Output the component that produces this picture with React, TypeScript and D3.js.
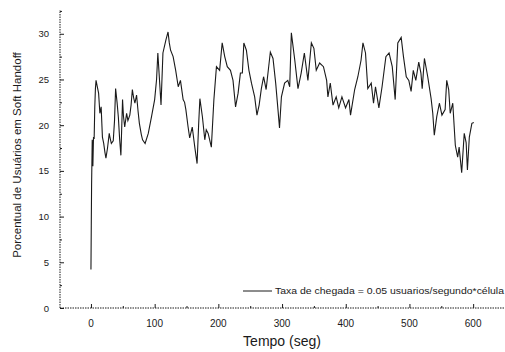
import React, { useEffect, useRef } from 'react';
import * as d3 from 'd3';

// tempo (seg) and percentual de usuarios em soft handoff
const tempo = [
  0, 0.5, 1, 2, 3, 4, 5, 6, 7, 8, 10, 12, 14, 16, 18, 20, 22, 23.5, 26, 28.7, 30, 32, 35, 37, 38.7, 41, 43,
  45, 47, 49.6, 51, 53, 56, 58, 61, 63, 65, 67, 69, 71.6, 74, 76, 79, 81, 85, 90, 95, 100, 103, 105, 108,
  110, 113, 117.6, 121, 123, 125, 129, 133, 137, 140.5, 144.7, 147, 149, 152.5, 155, 159, 163, 166.6, 169,
  171, 175, 178.7, 181, 184, 189, 193, 197, 202, 206, 210, 214, 219, 223, 227, 231, 234.6, 237.7, 240, 244,
  248, 252, 257, 260.6, 264, 267.5, 271, 275, 281.6, 285.8, 290, 293.6, 296, 299, 304, 309, 312, 314.6,
  320, 325, 330, 335, 340.6, 346, 350, 353.7, 359, 365, 370, 372, 375.7, 380, 385, 389, 394, 399.7, 405,
  407.5, 414, 419, 424, 427, 431, 434.6, 440, 443.6, 446.7, 452, 457, 463, 468, 473, 477.6, 481.7, 487,
  490.6, 495, 499, 502.6, 506, 510, 514.6, 518, 520, 523.5, 528.7, 534, 536.6, 539, 542.8, 547, 551, 556,
  558.5, 561.6, 564, 568, 572, 575.7, 578, 582, 586, 589, 591, 594, 598, 601,
];
const percentual = [
  4.2, 9, 13.5, 18.4, 15.5, 18.7, 18.5, 22, 24, 24.9, 24.2, 23.5, 21.3, 22, 18.7, 18, 17, 16.4, 17.5, 19.1,
  18.6, 18, 18.3, 20.5, 24, 22.5, 20.9, 18.5, 16.7, 22.8, 21, 19.8, 21.3, 20.5, 21.1, 22.2, 23.9, 23, 22.4,
  23.3, 21.5, 20.2, 19, 18.4, 18, 19.1, 20.9, 22.8, 25, 27.9, 24.5, 22.2, 27.9, 29.3, 30.2, 29, 28.2, 27.5,
  26, 24.2, 24.9, 22.8, 22.5, 21.7, 19.8, 18.6, 19.8, 17.6, 15.8, 20, 22.9, 20.9, 18.4, 19.5, 19.1, 17.6,
  22.8, 26.4, 26, 29, 27.5, 26.4, 26, 24.9, 22, 23.5, 25.7, 25.7, 29, 28.2, 26, 24.6, 23.1, 21.1, 22.2, 24,
  25.3, 23.9, 28, 27.3, 24.6, 21.7, 19.7, 23.1, 24.6, 24.9, 24.2, 30.1, 27.1, 24, 25.7, 27.9, 24.9, 29,
  28.4, 26, 26.8, 26.4, 24.9, 23.1, 24.6, 22.2, 23.1, 21.9, 23.1, 21.9, 22.8, 21.1, 23.9, 25.3, 27.1, 29,
  27.9, 24, 24.6, 22.4, 24.2, 21.9, 24.2, 27.5, 27.9, 26.4, 22.8, 29, 29.6, 27.5, 25.3, 24.9, 23.7, 26,
  24.9, 26.9, 25.7, 24, 27.3, 25.3, 22.9, 21.3, 18.9, 20.9, 22.4, 21.1, 21.7, 24.9, 23.9, 21.3, 22.4, 17.8,
  16.5, 17.6, 14.8, 19.1, 18.1, 15.1, 18.7, 20.2, 20.3,
];

const yTicks = [0, 5, 10, 15, 20, 25, 30];
const yMinorTicks = [2.5, 7.5, 12.5, 17.5, 22.5, 27.5, 32.5];
const xTicks = [0, 100, 200, 300, 400, 500, 600];
const xMinorTicks = [50, 150, 250, 350, 450, 550];

const legendLabel = 'Taxa de chegada = 0.05 usuarios/segundo*célula';

const SoftHandoffChart = () => {
  const ref = useRef<SVGSVGElement>(null);

  useEffect(() => {
    const width = 505;
    const height = 352;
    const svg = d3.select(ref.current).attr('width', width).attr('height', height);
    svg.selectAll('*').remove();

    const x = d3.scaleLinear().domain([-48.6, 650]).range([60, 505]);
    const y = d3.scaleLinear().domain([0, 32.6]).range([308, 10]);
    const ink = '#1a1a1a';
    const font = 'Arial, "Liberation Sans", sans-serif';

    // axes: left and bottom only, ticks pointing in
    const yAxis = svg.append('g').attr('transform', `translate(${x(-48.6)},0)`);
    yAxis.call(d3.axisRight(y).tickValues(yTicks).tickSize(4).tickFormat(() => ''));
    yAxis.call((g) => g.select('.domain').remove());
    svg.append('g')
      .attr('transform', `translate(${x(-48.6)},0)`)
      .call(d3.axisRight(y).tickValues(yMinorTicks).tickSize(2).tickFormat(() => ''))
      .call((g) => g.select('.domain').remove());

    const xAxis = svg.append('g').attr('transform', `translate(0,${y(0)})`);
    xAxis.call(d3.axisTop(x).tickValues(xTicks).tickSize(4).tickFormat(() => ''));
    xAxis.call((g) => g.select('.domain').remove());
    svg.append('g')
      .attr('transform', `translate(0,${y(0)})`)
      .call(d3.axisTop(x).tickValues(xMinorTicks).tickSize(2).tickFormat(() => ''))
      .call((g) => g.select('.domain').remove());

    svg.selectAll('.tick line').attr('stroke', ink).attr('stroke-width', 1);

    // dotted scan-look axis lines
    svg.append('line')
      .attr('x1', x(-48.6)).attr('x2', x(-48.6))
      .attr('y1', y(0)).attr('y2', y(32.6))
      .attr('stroke', ink).attr('stroke-width', 1).attr('stroke-dasharray', '1.5,1');
    svg.append('line')
      .attr('x1', x(-48.6)).attr('x2', x(650))
      .attr('y1', y(0)).attr('y2', y(0))
      .attr('stroke', ink).attr('stroke-width', 1).attr('stroke-dasharray', '1.5,1');

    // tick labels
    svg.selectAll('.ylab')
      .data(yTicks)
      .enter()
      .append('text')
      .attr('x', 49)
      .attr('y', (d) => y(d) + 3.5)
      .attr('text-anchor', 'end')
      .attr('font-family', font)
      .attr('font-size', 9.5)
      .attr('fill', ink)
      .text((d) => d);

    svg.selectAll('.xlab')
      .data(xTicks)
      .enter()
      .append('text')
      .attr('x', (d) => x(d))
      .attr('y', 327)
      .attr('text-anchor', 'middle')
      .attr('font-family', font)
      .attr('font-size', 10)
      .attr('fill', ink)
      .text((d) => d);

    // axis titles
    svg.append('text')
      .attr('x', 282)
      .attr('y', 346)
      .attr('text-anchor', 'middle')
      .attr('font-family', font)
      .attr('font-size', 14)
      .attr('fill', ink)
      .text('Tempo (seg)');

    svg.append('text')
      .attr('transform', 'translate(21,155) rotate(-90)')
      .attr('text-anchor', 'middle')
      .attr('font-family', font)
      .attr('font-size', 11.5)
      .attr('fill', ink)
      .text('Porcentual de Usuários em Soft Handoff');

    // series
    const points = tempo.map((t, i) => [t, percentual[i]] as [number, number]);
    const line = d3.line<[number, number]>()
      .x((d) => x(d[0]))
      .y((d) => y(d[1]));

    svg.append('path')
      .datum(points)
      .attr('fill', 'none')
      .attr('stroke', ink)
      .attr('stroke-width', 1.1)
      .attr('stroke-linejoin', 'miter')
      .attr('d', line);

    // legend
    svg.append('line')
      .attr('x1', 243).attr('x2', 272)
      .attr('y1', 291).attr('y2', 291)
      .attr('stroke', ink).attr('stroke-width', 1);
    svg.append('text')
      .attr('x', 275)
      .attr('y', 294)
      .attr('font-family', font)
      .attr('font-size', 9)
      .attr('fill', ink)
      .attr('textLength', 229)
      .attr('lengthAdjust', 'spacingAndGlyphs')
      .text(legendLabel);
  }, []);

  return <svg ref={ref} style={{ display: 'block' }} />;
};

export default function App() {
  return (
    <div style={{ position: 'absolute', left: 0, top: 0 }}>
      <SoftHandoffChart />
    </div>
  );
}
